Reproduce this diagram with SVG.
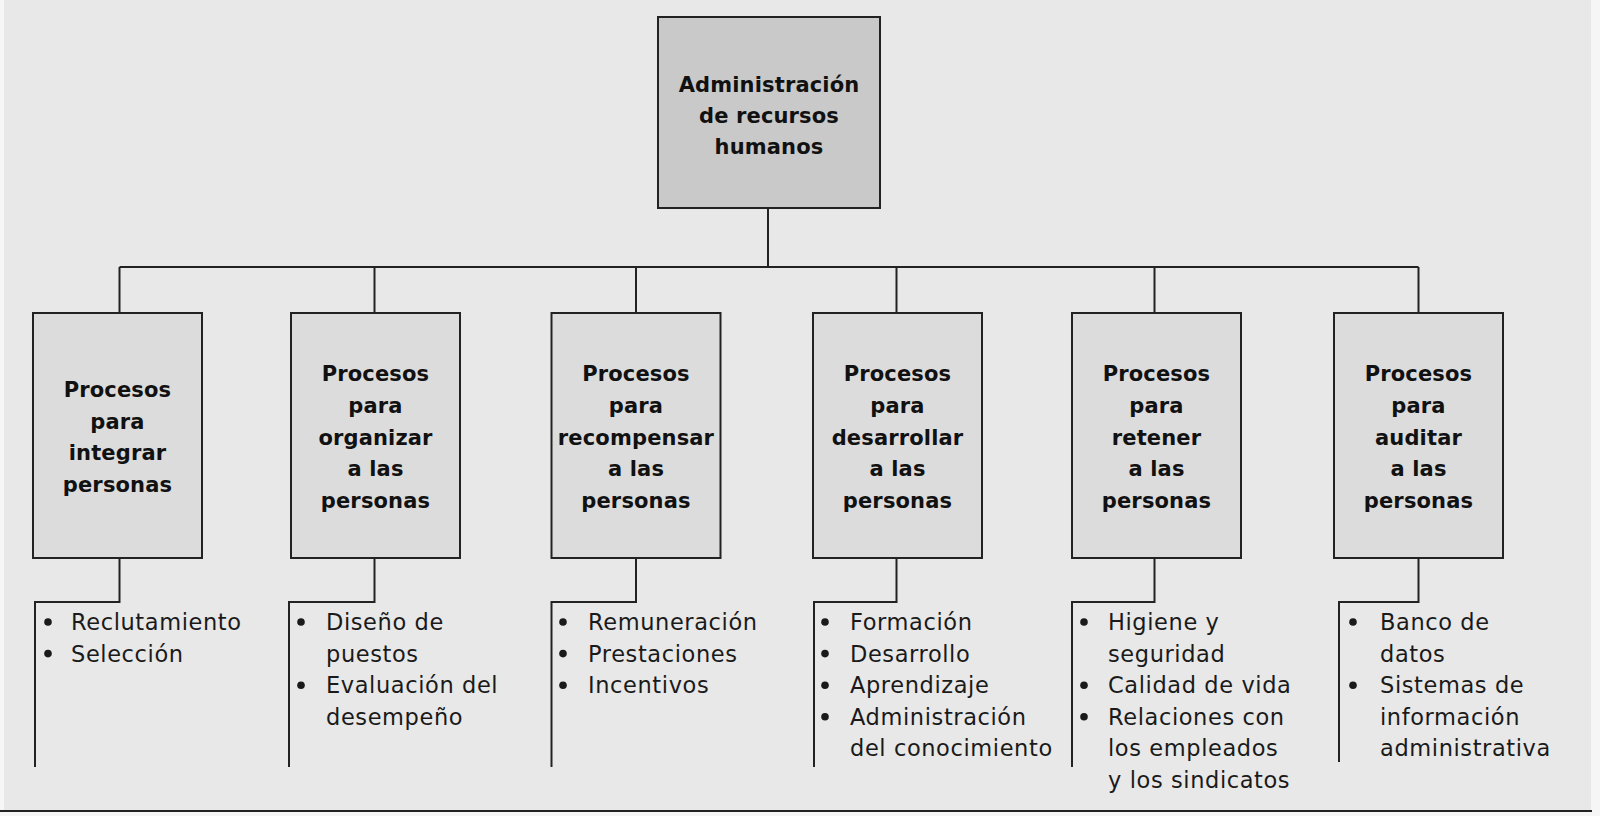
<svg xmlns="http://www.w3.org/2000/svg" width="1600" height="816" viewBox="0 0 1600 816">
<style>
.box{stroke:#222;stroke-width:2}
.top{fill:#c9c9c9}
.child{fill:#dcdcdc}
.conn{fill:none;stroke:#222;stroke-width:2}
.t{font-family:"DejaVu Sans",Verdana,sans-serif;font-weight:bold;font-size:21px;fill:#111;text-anchor:middle;letter-spacing:0.15px}
.l{font-family:"DejaVu Sans",Verdana,sans-serif;font-size:22.5px;fill:#1a1a1a;letter-spacing:0.6px}
.b{fill:#1a1a1a}
</style>
<rect x="0" y="0" width="1600" height="816" fill="#f6f6f6"/>
<rect x="4" y="0" width="1587" height="811" fill="#e8e8e8"/>
<line x1="0" y1="811" x2="1592" y2="811" stroke="#222" stroke-width="2"/>
<g id="connectors">
<path class="conn" d="M768 208V267M119.5 267H1418.5M119.5 267V313M374.5 267V313M636 267V313M896.5 267V313M1154.5 267V313M1418.5 267V313"/>
<path class="conn" d="M119.5 558V602H35V767"/>
<path class="conn" d="M374.5 558V602H289V767"/>
<path class="conn" d="M636 558V602H551.5V767"/>
<path class="conn" d="M896.5 558V602H814V767"/>
<path class="conn" d="M1154.5 558V602H1072V767"/>
<path class="conn" d="M1418.5 558V602H1339V762"/>
</g>
<g id="root">
<rect class="box top" x="658" y="17" width="222" height="191"/>
<text class="t" x="769" y="92">Administración</text>
<text class="t" x="769" y="123">de recursos</text>
<text class="t" x="769" y="154">humanos</text>
</g>
<g id="integrar">
<rect class="box child" x="33" y="313" width="169" height="245"/>
<text class="t" x="117.5" y="397">Procesos</text>
<text class="t" x="117.5" y="428.5">para</text>
<text class="t" x="117.5" y="460">integrar</text>
<text class="t" x="117.5" y="492">personas</text>
</g>
<g id="organizar">
<rect class="box child" x="291" y="313" width="169" height="245"/>
<text class="t" x="375.5" y="381">Procesos</text>
<text class="t" x="375.5" y="413">para</text>
<text class="t" x="375.5" y="444.5">organizar</text>
<text class="t" x="375.5" y="476">a las</text>
<text class="t" x="375.5" y="508">personas</text>
</g>
<g id="recompensar">
<rect class="box child" x="551.5" y="313" width="169" height="245"/>
<text class="t" x="636" y="381">Procesos</text>
<text class="t" x="636" y="413">para</text>
<text class="t" x="636" y="444.5">recompensar</text>
<text class="t" x="636" y="476">a las</text>
<text class="t" x="636" y="508">personas</text>
</g>
<g id="desarrollar">
<rect class="box child" x="813" y="313" width="169" height="245"/>
<text class="t" x="897.5" y="381">Procesos</text>
<text class="t" x="897.5" y="413">para</text>
<text class="t" x="897.5" y="444.5">desarrollar</text>
<text class="t" x="897.5" y="476">a las</text>
<text class="t" x="897.5" y="508">personas</text>
</g>
<g id="retener">
<rect class="box child" x="1072" y="313" width="169" height="245"/>
<text class="t" x="1156.5" y="381">Procesos</text>
<text class="t" x="1156.5" y="413">para</text>
<text class="t" x="1156.5" y="444.5">retener</text>
<text class="t" x="1156.5" y="476">a las</text>
<text class="t" x="1156.5" y="508">personas</text>
</g>
<g id="auditar">
<rect class="box child" x="1334" y="313" width="169" height="245"/>
<text class="t" x="1418.5" y="381">Procesos</text>
<text class="t" x="1418.5" y="413">para</text>
<text class="t" x="1418.5" y="444.5">auditar</text>
<text class="t" x="1418.5" y="476">a las</text>
<text class="t" x="1418.5" y="508">personas</text>
</g>
<g id="list-integrar">
<circle class="b" cx="48" cy="622" r="3.8"/><text class="l" x="71" y="630">Reclutamiento</text>
<circle class="b" cx="48" cy="653.6" r="3.8"/><text class="l" x="71" y="661.6">Selección</text>
</g>
<g id="list-organizar">
<circle class="b" cx="301" cy="622" r="3.8"/><text class="l" x="326" y="630">Diseño de</text>
<text class="l" x="326" y="661.6">puestos</text>
<circle class="b" cx="301" cy="685.2" r="3.8"/><text class="l" x="326" y="693.2">Evaluación del</text>
<text class="l" x="326" y="724.8">desempeño</text>
</g>
<g id="list-recompensar">
<circle class="b" cx="563" cy="622" r="3.8"/><text class="l" x="588" y="630">Remuneración</text>
<circle class="b" cx="563" cy="653.6" r="3.8"/><text class="l" x="588" y="661.6">Prestaciones</text>
<circle class="b" cx="563" cy="685.2" r="3.8"/><text class="l" x="588" y="693.2">Incentivos</text>
</g>
<g id="list-desarrollar">
<circle class="b" cx="825" cy="622" r="3.8"/><text class="l" x="850" y="630">Formación</text>
<circle class="b" cx="825" cy="653.6" r="3.8"/><text class="l" x="850" y="661.6">Desarrollo</text>
<circle class="b" cx="825" cy="685.2" r="3.8"/><text class="l" x="850" y="693.2">Aprendizaje</text>
<circle class="b" cx="825" cy="716.8" r="3.8"/><text class="l" x="850" y="724.8">Administración</text>
<text class="l" x="850" y="756.4">del conocimiento</text>
</g>
<g id="list-retener">
<circle class="b" cx="1084" cy="622" r="3.8"/><text class="l" x="1108" y="630">Higiene y</text>
<text class="l" x="1108" y="661.6">seguridad</text>
<circle class="b" cx="1084" cy="685.2" r="3.8"/><text class="l" x="1108" y="693.2">Calidad de vida</text>
<circle class="b" cx="1084" cy="716.8" r="3.8"/><text class="l" x="1108" y="724.8">Relaciones con</text>
<text class="l" x="1108" y="756.4">los empleados</text>
<text class="l" x="1108" y="788">y los sindicatos</text>
</g>
<g id="list-auditar">
<circle class="b" cx="1353" cy="622" r="3.8"/><text class="l" x="1380" y="630">Banco de</text>
<text class="l" x="1380" y="661.6">datos</text>
<circle class="b" cx="1353" cy="685.2" r="3.8"/><text class="l" x="1380" y="693.2">Sistemas de</text>
<text class="l" x="1380" y="724.8">información</text>
<text class="l" x="1380" y="756.4">administrativa</text>
</g>
</svg>
